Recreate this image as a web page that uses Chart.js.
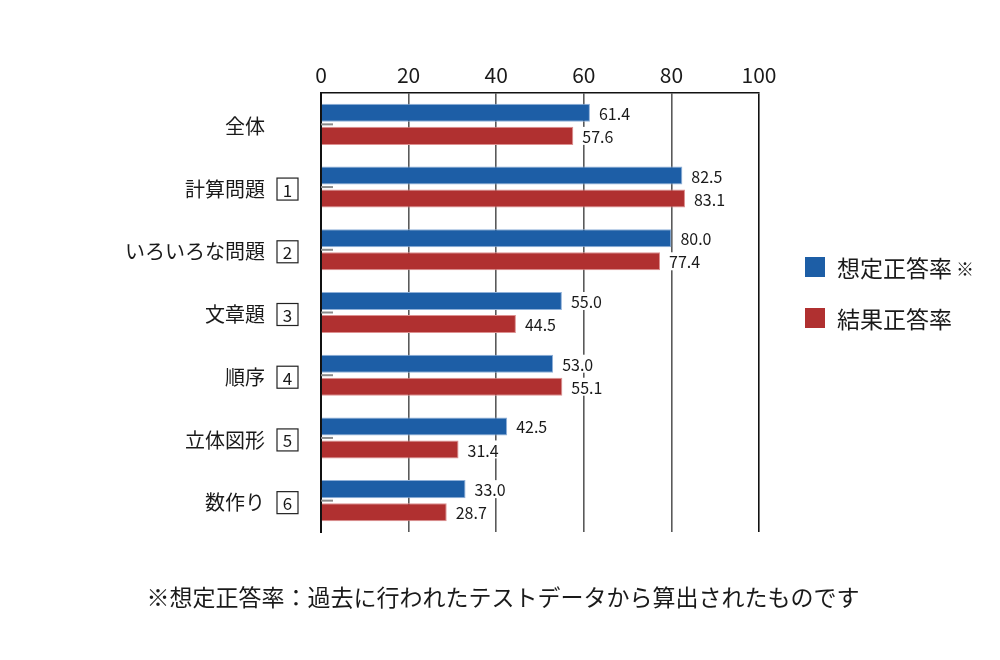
<!DOCTYPE html>
<html>
<head>
<meta charset="utf-8">
<script src="https://cdn.jsdelivr.net/npm/chart.js@4.4.0/dist/chart.umd.min.js"></script>
<style>
  body { margin: 0; background: #fff; }
  #wrap { width: 1000px; height: 660px; }
</style>
</head>
<body>
<div id="wrap"><canvas id="barchart" width="1000" height="660"></canvas></div>
<script>
// categories and their boxed question numbers
var categories = ["全体", "計算問題", "いろいろな問題", "文章題", "順序", "立体図形", "数作り"];
var questionNo = ["", "1", "2", "3", "4", "5", "6"];

// series values (%)
var expectedRate = [61.4, 82.5, 80.0, 55.0, 53.0, 42.5, 33.0];
var resultRate = [57.6, 83.1, 77.4, 44.5, 55.1, 31.4, 28.7];

// x axis ticks
var xTicks = [0, 20, 40, 60, 80, 100];

var legendNote = ["※", ""];
var footNote = "※想定正答率：過去に行われたテストデータから算出されたものです";

var FONT = "'Noto Sans CJK JP', 'Noto Sans', sans-serif";

// left labels, small axis ticks, value labels, legend and footnote
var extras = {
  id: "extras",
  afterDatasetsDraw: function (chart) {
    var ctx = chart.ctx;
    var y = chart.scales.y;
    var area = chart.chartArea;
    ctx.save();

    categories.forEach(function (name, i) {
      var py = y.getPixelForValue(i);
      // tick mark between the two bars
      ctx.strokeStyle = "#8a8a8a";
      ctx.lineWidth = 2;
      ctx.beginPath();
      ctx.moveTo(area.left, py);
      ctx.lineTo(area.left + 12, py);
      ctx.stroke();

      ctx.fillStyle = "#1a1a1a";
      ctx.textBaseline = "middle";
      ctx.textAlign = "right";
      ctx.font = "20px " + FONT;
      ctx.fillText(name, area.left - 56, py + 2);

      if (questionNo[i]) {
        var bx = area.left - 44, bw = 21, bh = 22;
        ctx.strokeStyle = "#222";
        ctx.lineWidth = 1.2;
        ctx.strokeRect(bx, py + 2 - bh / 2, bw, bh);
        ctx.textAlign = "center";
        ctx.font = "17px " + FONT;
        ctx.fillText(questionNo[i], bx + bw / 2, py + 3);
      }
    });

    // value labels at bar ends
    ctx.font = "16px " + FONT;
    ctx.textAlign = "left";
    ctx.textBaseline = "middle";
    chart.data.datasets.forEach(function (ds, di) {
      chart.getDatasetMeta(di).data.forEach(function (bar, i) {
        var txt = ds.data[i].toFixed(1);
        var w = ctx.measureText(txt).width;
        var tx = bar.x + 9;
        ctx.fillStyle = "#fff";
        ctx.fillRect(tx - 2, bar.y - 9, w + 4, 18);
        ctx.fillStyle = "#1a1a1a";
        ctx.fillText(txt, tx, bar.y + 1);
      });
    });

    // legend
    chart.data.datasets.forEach(function (ds, di) {
      var ly = 267 + di * 51;
      ctx.fillStyle = ds.backgroundColor;
      ctx.fillRect(805, ly - 10, 20, 20);
      ctx.fillStyle = "#1a1a1a";
      ctx.font = "23px " + FONT;
      ctx.textAlign = "left";
      ctx.fillText(ds.label, 837, ly + 1);
      if (legendNote[di]) {
        var lw = ctx.measureText(ds.label).width;
        ctx.font = "18px " + FONT;
        ctx.fillText(legendNote[di], 837 + lw + 4, ly + 2);
      }
    });

    // footnote
    ctx.font = "23px " + FONT;
    ctx.textAlign = "center";
    ctx.fillStyle = "#1a1a1a";
    ctx.fillText(footNote, 503, 597);

    ctx.restore();
  }
};

var ctx = document.getElementById("barchart").getContext("2d");

var chart = new Chart(ctx, {
  type: "bar",
  data: {
    labels: categories,
    datasets: [
      {
        label: "想定正答率",
        backgroundColor: "#1d5ea6",
        borderColor: "#8fb0d8",
        borderWidth: 1,
        categoryPercentage: 0.734,
        barPercentage: 0.783,
        data: expectedRate,
      },
      {
        label: "結果正答率",
        backgroundColor: "#b03030",
        borderColor: "#dd9090",
        borderWidth: 1,
        categoryPercentage: 0.734,
        barPercentage: 0.783,
        data: resultRate,
      },
    ],
  },
  options: {
    indexAxis: "y",
    responsive: false,
    devicePixelRatio: 1,
    animation: false,
    layout: {
      padding: { left: 321, right: 241, top: 53, bottom: 128 },
    },
    plugins: {
      legend: { display: false },
      tooltip: { enabled: false },
    },
    scales: {
      x: {
        position: "top",
        min: 0,
        max: 100,
        afterBuildTicks: function (scale) {
          scale.ticks = xTicks.map(function (v) { return { value: v }; });
        },
        afterFit: function (scale) { scale.height = 40; },
        grid: {
          drawTicks: false,
          color: function (c) {
            return c.tick && c.tick.value === 100 ? "#111" : "#5a5a5a";
          },
          lineWidth: 1.6,
        },
        border: { display: true, color: "#111", width: 1.5 },
        ticks: {
          padding: 5,
          color: "#1a1a1a",
          font: { family: FONT, size: 21 },
        },
      },
      y: {
        afterFit: function (scale) { scale.width = 0; },
        grid: { display: true, drawOnChartArea: false, drawTicks: false },
        border: { display: true, color: "#111", width: 2 },
        ticks: { display: false },
      },
    },
  },
  plugins: [extras],
});
</script>
</body>
</html>
